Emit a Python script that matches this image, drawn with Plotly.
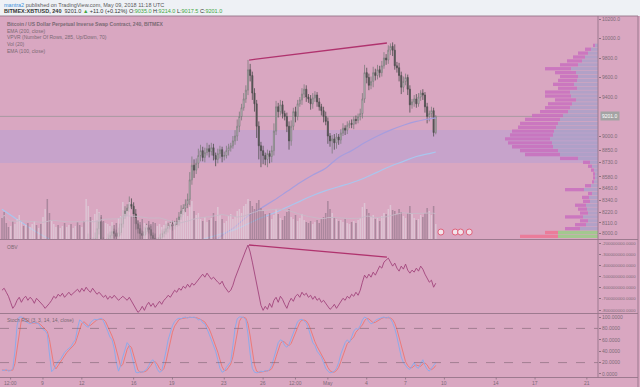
import plotly.graph_objects as go
import pandas as pd

# ---------------- data ----------------
bar_start = "2018-04-05 20:00"          # first 4h bar shown
closes = [6780,6720,6650,6600,6640,6620,6640,6700,6850,6900,6880,6920,6900,6950,7000,7050,7020,7060,7030,7100,
          7150,6800,6750,6770,6780,6800,6780,6830,6850,6820,6840,6900,6880,6920,6950,6940,6930,6950,6940,7700,
          7900,7880,7920,7950,8050,8120,7920,7880,7900,7950,7980,8020,8000,7970,8010,8100,8180,8230,8260,8300,
          8280,8200,8100,8050,8000,7980,8020,8060,8040,7980,7950,7900,7920,7960,8000,8020,8050,8070,8090,8080,
          8100,8120,8170,8230,8260,8300,8350,8550,8700,8650,8720,8800,8850,8780,8830,8870,8840,8880,8800,8760,
          8820,8860,8790,8800,8850,8880,8900,8950,9000,9100,9200,9290,9380,9470,9680,9620,9440,9330,9100,8900,
          8850,8800,8760,8820,8790,8850,9050,9300,9250,9320,9230,9200,9100,8950,9100,9250,9200,9330,9370,9430,
          9480,9400,9380,9330,9390,9420,9350,9300,9260,9200,9150,9000,8950,8970,8930,8990,8960,9030,9080,9060,
          9110,9130,9120,9170,9160,9200,9230,9380,9650,9600,9520,9560,9650,9620,9680,9650,9720,9800,9780,9880,
          9920,9880,9720,9700,9620,9500,9560,9600,9480,9320,9350,9380,9330,9400,9440,9420,9300,9200,9230,9260,
          9035,9201]
first_open = 6800
wick_hi = [40,30,50,20,40,30,60,40,50,30,40,30,50,40,30,60,40,30,50,80,
           60,120,40,30,40,30,50,30,40,30,40,50,30,40,30,40,30,40,60,150,
           100,50,40,60,80,90,50,40,30,50,40,60,30,40,50,70,60,50,40,80,
           60,40,50,30,40,30,50,40,30,40,30,50,40,30,40,30,50,40,30,40,
           30,40,50,60,40,50,60,80,90,60,50,70,60,40,50,60,40,50,40,30,
           50,40,30,40,50,40,30,50,60,70,50,40,60,50,100,60,40,50,40,50,
           40,50,30,40,30,50,80,60,40,50,40,30,40,50,60,40,50,40,30,60,
           50,40,30,40,50,40,30,40,30,40,50,40,30,40,50,40,30,40,50,30,
           40,30,40,30,40,30,50,60,80,50,40,50,60,40,50,40,50,60,40,50,
           30,40,60,40,50,40,50,40,30,40,30,40,50,40,30,40,30,40,30,40,
           30,13]
wick_lo = [40,50,30,60,40,30,40,30,40,50,30,40,30,40,30,40,30,50,40,30,
           60,80,50,40,30,40,50,30,40,30,40,30,50,30,40,30,40,50,40,60,
           80,60,50,40,30,60,90,40,50,40,30,40,50,30,40,30,40,30,50,40,
           30,40,60,50,70,50,40,30,40,50,60,40,30,40,30,40,30,40,30,50,
           40,30,40,30,40,50,40,60,50,80,40,50,60,40,50,30,60,40,50,70,
           40,50,60,40,30,50,40,30,40,50,60,40,30,40,50,60,70,80,120,140,
           170,90,60,80,70,60,50,40,60,40,50,40,60,90,50,40,60,40,30,50,
           40,50,40,60,50,40,50,40,50,60,40,80,60,130,70,60,50,40,30,50,
           40,30,40,50,40,30,40,50,40,60,50,40,60,50,40,50,40,30,50,40,
           50,60,40,50,60,70,50,40,60,80,40,50,40,30,40,50,60,70,50,40,
           40,17.5]
volumes = [210,270,160,120,130,180,150,200,240,170,130,140,160,120,150,180,140,110,150,220,
           300,400,260,180,150,120,140,110,130,160,120,140,150,110,130,170,140,120,180,400,
           330,220,190,250,300,270,240,180,160,150,130,170,140,160,210,230,370,250,280,370,
           230,250,210,190,170,200,160,140,180,150,170,160,130,150,120,140,180,130,160,150,
           170,140,190,250,300,270,230,320,380,280,240,260,200,180,220,170,190,210,260,180,
           320,240,200,160,180,230,250,200,220,280,300,260,330,350,400,380,330,300,360,390,
           310,280,250,220,260,200,240,300,250,210,190,230,270,300,220,200,240,180,210,250,
           190,170,160,180,150,170,190,160,200,220,260,380,300,260,220,200,180,190,170,200,
           160,150,170,180,160,190,210,320,360,300,260,220,240,200,210,180,230,260,250,300,
           340,290,280,250,300,270,230,210,260,330,250,210,190,200,240,220,260,310,280,240,
           330,150]
obv = [-623,-605,-641,-677,-731,-785,-758,-713,-686,-731,-695,-677,-713,-686,-704,-740,-695,-713,-731,-758,
       -785,-767,-740,-713,-677,-695,-659,-677,-650,-686,-668,-641,-668,-650,-632,-614,-641,-605,-632,-596,
       -623,-641,-605,-632,-659,-641,-659,-686,-668,-704,-677,-695,-668,-686,-713,-695,-677,-695,-713,-686,
       -722,-758,-794,-821,-803,-767,-803,-758,-731,-767,-740,-776,-749,-722,-749,-713,-695,-668,-686,-650,
       -623,-641,-605,-623,-587,-605,-569,-596,-560,-578,-551,-524,-497,-479,-506,-470,-497,-524,-506,-533,
       -551,-569,-542,-587,-614,-641,-623,-578,-515,-461,-407,-353,-308,-263,-218,-281,-371,-470,-569,-668,
       -758,-803,-767,-794,-740,-776,-713,-686,-731,-677,-704,-749,-785,-731,-695,-722,-677,-659,-686,-641,
       -668,-650,-686,-668,-704,-677,-713,-695,-731,-713,-740,-767,-794,-776,-749,-785,-758,-722,-695,-713,
       -677,-695,-659,-677,-641,-668,-623,-551,-488,-515,-479,-506,-461,-488,-443,-407,-425,-371,-353,-335,
       -371,-407,-380,-425,-452,-407,-434,-389,-443,-470,-443,-461,-425,-452,-407,-434,-479,-515,-551,-533,
       -596,-560]
stoch_k = [7,6,8,5,6,9,40,85,100,100,98,92,90,88,90,91,89,88,82,78,
           76,70,35,4,8,15,22,25,32,38,42,45,48,55,60,80,95,92,88,84,
           82,90,94,96,95,97,98,93,85,75,65,60,45,20,5,15,30,45,55,50,
           35,15,3,2,4,3,5,8,15,22,25,18,8,3,5,20,40,60,75,85,
           92,96,98,97,99,100,98,100,99,100,98,95,96,90,88,80,70,60,50,40,
           25,10,3,5,12,18,22,50,80,97,100,100,99,95,70,35,10,3,2,3,
           5,4,6,5,8,15,30,45,55,60,58,50,47,52,62,75,85,92,95,96,
           93,90,80,65,55,50,40,35,30,20,10,5,2,3,5,10,20,35,45,55,
           60,55,65,75,80,78,85,95,100,98,92,88,90,94,96,98,99,100,98,100,
           97,90,80,65,45,30,20,15,10,8,15,20,12,10,18,25,15,8,5,10,
           15,20]
ema_bars = [0,6,12,18,24,30,36,42,48,54,60,66,72,78,84,90,96,102,108,114,120,126,132,138,144,150,
            156,162,168,174,180,186,192,198,201]
ema200 = [8250,8160,8070,7990,7920,7860,7810,7790,7790,7800,7820,7830,7840,7860,7880,7920,7960,8000,
          8040,8100,8160,8210,8270,8330,8390,8440,8480,8520,8570,8630,8690,8740,8790,8820,8836]
ema100 = [7800,7650,7560,7490,7420,7360,7320,7340,7390,7450,7510,7560,7610,7660,7720,7800,7890,7980,
          8070,8180,8260,8340,8430,8520,8600,8670,8780,8850,8930,9000,9060,9110,9150,9175,9185]
vpvr_rows = list(range(7970, 9931, 40))     # row centre prices (40 per row)
vpvr_total = [78,53,33,23,18,33,18,20,23,15,16,10,33,13,6,5,5,7,10,15,38,73,78,86,90,93,88,86,80,78,
              73,66,58,53,50,43,53,53,40,45,40,38,43,53,38,31,25,20,13,5]
vpvr_up = [40,40,18,12,10,15,10,11,12,8,9,6,14,7,4,3,3,4,6,8,20,38,40,45,46,48,45,44,42,40,
           38,35,30,28,26,22,27,28,21,24,21,20,22,27,20,16,13,10,7,3]
zone_low, zone_high = 8723, 9061
last_price = 9201.0
div_times = ["2018-04-24 22:00", "2018-05-05 13:30"]
div_price = [9779, 9954]
div_obv = [-218, -326]
event_times = ["2018-05-09 17:30", "2018-05-10 20:00", "2018-05-11 06:00", "2018-05-11 22:00"]
event_level = 8015
price_ticks = [10200, 10000, 9800, 9600, 9400, 9000, 8850, 8730, 8580, 8460, 8340, 8220, 8110, 8000]
obv_ticks = [-200, -300, -400, -500, -600, -700, -800]
stoch_ticks = [0, 20, 40, 60, 80, 100]
time_ticks = ["2018-04-06 12:00", "2018-04-09", "2018-04-12", "2018-04-16", "2018-04-19", "2018-04-23",
              "2018-04-26", "2018-04-28 12:00", "2018-05-01", "2018-05-04", "2018-05-07", "2018-05-10",
              "2018-05-14", "2018-05-17", "2018-05-21"]
time_labels = ["12:00", "9", "12", "16", "19", "23", "26", "12:00", "May", "4", "7", "10", "14", "17", "21"]
x_range = ["2018-04-05 16:20", "2018-05-21 20:40"]

# ---------------- derived ----------------
n = len(closes)
times = pd.date_range(bar_start, periods=n, freq="4h")
opens = [first_open] + closes[:-1]
highs = [max(o, c) + w for o, c, w in zip(opens, closes, wick_hi)]
lows = [min(o, c) - w for o, c, w in zip(opens, closes, wick_lo)]
vol_ma = pd.Series(volumes).rolling(20, min_periods=1).mean()
stoch_d = pd.Series(stoch_k).rolling(3, min_periods=1).mean()
ema_times = [times[i] for i in ema_bars]

W, H = 640, 387
def py(v): return 1 - v / H
XD = 598 / W
PINK = "#d9a7c1"
FONT = "Liberation Sans, Arial, sans-serif"
TXT = "#7a6a74"
AXT = "#7d6b77"

fig = go.Figure()

# volume
vcol = ["rgba(222,204,216,0.8)" if c >= o else "rgba(158,128,148,0.8)" for o, c in zip(opens, closes)]
fig.add_trace(go.Bar(x=times, y=volumes, marker=dict(color=vcol, line=dict(width=0)),
                     width=4 * 3600 * 1000 * 0.7, yaxis="y5", xaxis="x"))
fig.add_trace(go.Scatter(x=times, y=vol_ma, mode="lines", line=dict(color="rgba(200,185,200,0.9)", width=1),
                         yaxis="y5", xaxis="x"))

# VPVR
vpvr_down = [t - u for t, u in zip(vpvr_total, vpvr_up)]
up_cols = ["rgba(160,200,140,0.95)" if k < 2 else "rgba(170,160,200,0.85)" for k in range(len(vpvr_rows))]
dn_cols = ["rgba(235,120,150,0.9)" if k < 2 else "rgba(200,110,190,0.85)" for k in range(len(vpvr_rows))]
fig.add_trace(go.Bar(y=vpvr_rows, x=vpvr_up, orientation="h", width=34, marker=dict(color=up_cols, line=dict(width=0)),
                     xaxis="x2", yaxis="y"))
fig.add_trace(go.Bar(y=vpvr_rows, x=vpvr_down, base=vpvr_up, orientation="h", width=34,
                     marker=dict(color=dn_cols, line=dict(width=0)), xaxis="x2", yaxis="y"))

# EMAs
fig.add_trace(go.Scatter(x=ema_times, y=ema200, mode="lines", line=dict(color="#a9c6ee", width=1.2, shape="spline"),
                         xaxis="x", yaxis="y"))
fig.add_trace(go.Scatter(x=ema_times, y=ema100, mode="lines", line=dict(color="#a79ddd", width=1.2, shape="spline"),
                         xaxis="x", yaxis="y"))

# candles
fig.add_trace(go.Candlestick(x=times, open=opens, high=highs, low=lows, close=closes,
                             increasing=dict(line=dict(color="#7c7c7c", width=0.8), fillcolor="#dcdcdc"),
                             decreasing=dict(line=dict(color="#4e4e4e", width=0.8), fillcolor="#555555"),
                             whiskerwidth=0, xaxis="x", yaxis="y"))

# divergence lines
fig.add_trace(go.Scatter(x=div_times, y=div_price, mode="lines", line=dict(color="#b0336e", width=1.3),
                         xaxis="x", yaxis="y"))
fig.add_trace(go.Scatter(x=div_times, y=div_obv, mode="lines", line=dict(color="#b0336e", width=1.3),
                         xaxis="x", yaxis="y3"))

# event markers
fig.add_trace(go.Scatter(x=event_times, y=[event_level] * len(event_times), mode="markers",
                         marker=dict(symbol="circle", size=6, color="rgba(245,235,240,0.9)",
                                     line=dict(color="#e0607a", width=1)), xaxis="x", yaxis="y"))

# OBV
fig.add_trace(go.Scatter(x=times, y=obv, mode="lines", line=dict(color="#a2447c", width=0.9), xaxis="x", yaxis="y3"))

# Stoch RSI
fig.add_trace(go.Scatter(x=times, y=stoch_d, mode="lines", line=dict(color="#ec7a7a", width=1), xaxis="x", yaxis="y4"))
fig.add_trace(go.Scatter(x=times, y=stoch_k, mode="lines", line=dict(color="#8eaaea", width=1), xaxis="x", yaxis="y4"))

shapes = [
    dict(type="rect", xref="paper", yref="paper", x0=0, x1=1, y0=py(16), y1=1, fillcolor="#eef1f5",
         line=dict(width=0), layer="below"),
    dict(type="rect", xref="x domain", yref="y", x0=0, x1=1, y0=zone_low, y1=zone_high,
         fillcolor="rgba(178,160,214,0.45)", line=dict(width=0), layer="below"),
    dict(type="line", xref="x domain", yref="y", x0=0, x1=1, y0=last_price, y1=last_price,
         line=dict(color="rgba(150,150,150,0.7)", width=1), layer="below"),
    dict(type="line", xref="x domain", yref="y4", x0=0, x1=1, y0=80, y1=80,
         line=dict(color="rgba(120,95,110,0.7)", width=0.8, dash="dash")),
    dict(type="line", xref="x domain", yref="y4", x0=0, x1=1, y0=20, y1=20,
         line=dict(color="rgba(120,95,110,0.7)", width=0.8, dash="dash")),
]
SEP = "rgba(150,118,138,0.9)"
for ypx in (16, 239.5, 313.5, 377.5):
    shapes.append(dict(type="line", xref="paper", yref="paper", x0=0, x1=638 / W, y0=py(ypx), y1=py(ypx),
                       line=dict(color=SEP, width=1)))
shapes.append(dict(type="line", xref="paper", yref="paper", x0=XD, x1=XD, y0=py(377.5), y1=py(16),
                   line=dict(color=SEP, width=1)))
shapes.append(dict(type="line", xref="paper", yref="paper", x0=638 / W, x1=638 / W, y0=0, y1=py(16),
                   line=dict(color=SEP, width=1)))
# time-axis tick marks
for t in time_ticks:
    shapes.append(dict(type="line", xref="x", yref="paper", x0=t, x1=t, y0=py(377.5), y1=py(379.5),
                       line=dict(color="#8a7080", width=0.8)))

ann = []
def txt(x, y, s, size=5, color=TXT, **kw):
    d = dict(xref="paper", yref="paper", x=x / W, y=py(y), text=s, showarrow=False, xanchor="left",
             yanchor="middle", font=dict(family=FONT, size=size, color=color))
    d.update(kw)
    ann.append(d)

txt(2, 4.5, "<span style='color:#3b8fd9'>mantra2</span> published on TradingView.com, May 09, 2018 11:18 UTC",
    size=5.5, color="#5a5a5a")
G = "#3fa63f"
txt(2, 11, "<b>BITMEX:XBTUSD, 240</b>  9201.0 <span style='color:%s'>▲</span> +11.0 (+0.12%%) "
           "O:<span style='color:%s'>9035.0</span> H:<span style='color:%s'>9214.0</span> "
           "L:<span style='color:%s'>9017.5</span> C:<span style='color:%s'>9201.0</span>" % (G, G, G, G, G),
    size=5.5, color="#333333")
for ypx, s in [(24, "<b>Bitcoin / US Dollar Perpetual Inverse Swap Contract, 240, BITMEX</b>"),
               (30.7, "EMA (200, close)"), (37.3, "VPVR (Number Of Rows, 285, Up/Down, 70)"),
               (44, "Vol (20)"), (50.7, "EMA (100, close)")]:
    txt(5, ypx, s)
txt(5, 247, "OBV")
txt(5, 320, "Stoch RSI (3, 3, 14, 14, close)")
ann.append(dict(xref="paper", yref="y", x=600 / W, y=last_price, text="9201.0", showarrow=False,
                xanchor="left", yanchor="middle", bgcolor="#a3a3a3", borderpad=1,
                font=dict(family=FONT, size=5, color="white")))
for t, s in zip(time_ticks, time_labels):
    ann.append(dict(xref="x", yref="paper", x=t, y=py(383), text=s, showarrow=False, xanchor="center",
                    yanchor="middle", font=dict(family=FONT, size=5, color=AXT)))

AX = dict(showgrid=False, zeroline=False, side="right", anchor="x", ticks="outside", ticklen=2,
          tickcolor="#8a7080", tickfont=dict(family=FONT, size=5, color=AXT), showline=False)

fig.update_layout(
    width=W, height=H, margin=dict(l=0, r=0, t=0, b=0), paper_bgcolor=PINK, plot_bgcolor=PINK,
    showlegend=False, barmode="overlay", shapes=shapes, annotations=ann, hovermode=False,
    xaxis=dict(domain=[0, XD], type="date", range=x_range, anchor="y4", showgrid=False, zeroline=False,
               showticklabels=False, ticks="", rangeslider=dict(visible=False)),
    xaxis2=dict(domain=[0, XD], overlaying="x", range=[598, 0], visible=False, anchor="y"),
    yaxis=dict(AX, domain=[py(239), py(16)], range=[7943.6, 10230.8], tickvals=price_ticks,
               ticktext=["%.1f" % v for v in price_ticks]),
    yaxis5=dict(domain=[py(239), py(16)], overlaying="y", range=[0, 2230], visible=False, anchor="x"),
    yaxis3=dict(AX, domain=[py(313), py(240)], range=[-826.7, -173.1], tickvals=obv_ticks,
                ticktext=["%d000000.0000" % v for v in obv_ticks], tickfont=dict(family=FONT, size=4.3, color=AXT)),
    yaxis4=dict(AX, domain=[py(377), py(314)], range=[-5.3, 105.3], tickvals=stoch_ticks,
                ticktext=["%d.0000" % v for v in stoch_ticks]),
)
fig.write_html("out.html", config={"displayModeBar": False},
               post_script="document.body.style.margin='0';document.body.style.overflow='hidden';")
